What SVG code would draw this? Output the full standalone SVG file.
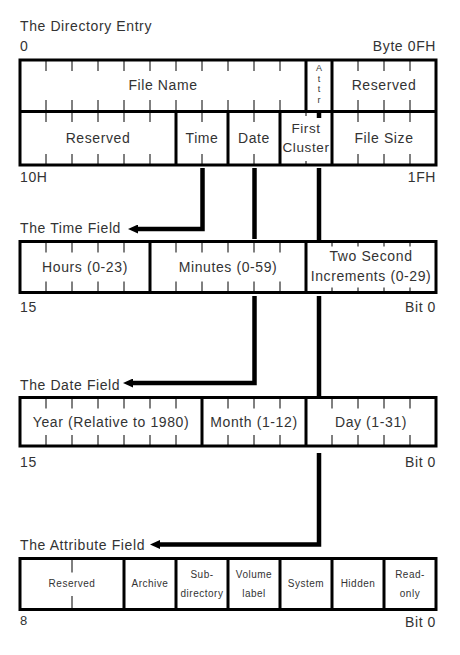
<svg xmlns="http://www.w3.org/2000/svg" width="460" height="655" viewBox="0 0 460 655">
<style>
.bg{fill:#fff}
.box{fill:#fff;stroke:#000;stroke-width:3}
.div{fill:none;stroke:#000;stroke-width:3}
.tick{fill:none;stroke:#000;stroke-width:1}
.t{font-family:"Liberation Sans",Arial,sans-serif;font-size:14px;fill:#333;letter-spacing:0.6px}
.m{text-anchor:middle}
.e{text-anchor:end}
.s{font-size:10px;letter-spacing:0.5px}
.fc{font-size:13.5px}
.a{font-size:9px;letter-spacing:0}
.conn{fill:none;stroke:#000;stroke-width:4.5;stroke-linejoin:miter}
</style>
<defs>
<marker id="ah" viewBox="0 0 10 9" refX="0" refY="4.5" markerWidth="10" markerHeight="9" markerUnits="userSpaceOnUse" orient="auto">
<path d="M0,0 L10,4.5 L0,9 z" fill="#000"/>
</marker>
</defs>
<rect class="bg" x="0" y="0" width="460" height="655"/>

<g id="directory-entry">
<text class="t" x="20" y="31">The Directory Entry</text>
<text class="t" x="20" y="51">0</text>
<text class="t e" x="436" y="51">Byte 0FH</text>
<rect class="box" x="20" y="60" width="416" height="105"/>
<path class="div" d="M20,111.5 H436 M306,60 V111.5 M332,60 V165 M176,111.5 V165 M228,111.5 V165 M280,111.5 V165"/>
<path class="tick" d="M46,60v11M72,60v11M98,60v11M124,60v11M150,60v11M176,60v11M202,60v11M228,60v11M254,60v11M280,60v11M358,60v11M384,60v11M410,60v11
M46,100v11M72,100v11M98,100v11M124,100v11M150,100v11M176,100v11M202,100v11M228,100v11M254,100v11M280,100v11M358,100v11M384,100v11M410,100v11
M46,111v11M72,111v11M98,111v11M124,111v11M150,111v11M202,111v11M254,111v11M358,111v11M384,111v11M410,111v11M306,111v5
M46,154v11M72,154v11M98,154v11M124,154v11M150,154v11M202,154v11M254,154v11M358,154v11M384,154v11M410,154v11M306,161v4"/>
<text class="t m" x="163" y="90">File Name</text>
<g class="t a m">
<text x="319" y="71">A</text>
<text x="319" y="81.5">t</text>
<text x="319" y="92">t</text>
<text x="319" y="102.5">r</text>
</g>
<text class="t m" x="384" y="90">Reserved</text>
<text class="t m" x="98" y="143">Reserved</text>
<text class="t m" x="202" y="143">Time</text>
<text class="t m" x="254" y="143">Date</text>
<text class="t fc m" x="306" y="133">First</text>
<text class="t fc m" x="306" y="152">Cluster</text>
<text class="t m" x="384" y="143">File Size</text>
<text class="t" x="20" y="182">10H</text>
<text class="t e" x="436" y="182">1FH</text>
</g>

<g id="time-field">
<text class="t" x="20" y="233">The Time Field</text>
<rect class="box" x="20" y="241.5" width="416" height="51"/>
<path class="div" d="M150,241.5 V292.5 M306,241.5 V292.5"/>
<path class="tick" d="M46,241.5v11M72,241.5v11M98,241.5v11M124,241.5v11M176,241.5v11M202,241.5v11M228,241.5v11M254,241.5v11M280,241.5v11
M46,281.5v11M72,281.5v11M98,281.5v11M124,281.5v11M176,281.5v11M202,281.5v11M228,281.5v11M254,281.5v11M280,281.5v11
M332,241.5v5M358,241.5v5M384,241.5v5M410,241.5v5M332,287.5v5M358,287.5v5M384,287.5v5M410,287.5v5"/>
<text class="t m" x="85" y="272">Hours (0-23)</text>
<text class="t m" x="228" y="272">Minutes (0-59)</text>
<text class="t m" x="371" y="261">Two Second</text>
<text class="t m" x="371" y="281">Increments (0-29)</text>
<text class="t" x="20" y="312">15</text>
<text class="t e" x="436" y="312">Bit 0</text>
</g>

<g id="date-field">
<text class="t" x="20" y="390">The Date Field</text>
<rect class="box" x="20" y="397.5" width="416" height="48.5"/>
<path class="div" d="M202,397.5 V446 M306,397.5 V446"/>
<path class="tick" d="M46,397.5v11M72,397.5v11M98,397.5v11M124,397.5v11M150,397.5v11M176,397.5v11M228,397.5v11M254,397.5v11M280,397.5v11M332,397.5v11M358,397.5v11M384,397.5v11M410,397.5v11
M46,435v11M72,435v11M98,435v11M124,435v11M150,435v11M176,435v11M228,435v11M254,435v11M280,435v11M332,435v11M358,435v11M384,435v11M410,435v11"/>
<text class="t m" x="111" y="427">Year (Relative to 1980)</text>
<text class="t m" x="254" y="427">Month (1-12)</text>
<text class="t m" x="371" y="427">Day (1-31)</text>
<text class="t" x="20" y="467">15</text>
<text class="t e" x="436" y="467">Bit 0</text>
</g>

<g id="attribute-field">
<text class="t" x="20" y="550">The Attribute Field</text>
<rect class="box" x="20" y="558.5" width="416" height="51"/>
<path class="div" d="M124,558.5 V609.5 M176,558.5 V609.5 M228,558.5 V609.5 M280,558.5 V609.5 M332,558.5 V609.5 M384,558.5 V609.5"/>
<path class="tick" d="M72,558.5v14M72,596v13.5"/>
<g class="t s m">
<text x="72" y="587">Reserved</text>
<text x="150" y="587">Archive</text>
<text x="202" y="578">Sub-</text>
<text x="202" y="597">directory</text>
<text x="254" y="578">Volume</text>
<text x="254" y="597">label</text>
<text x="306" y="587">System</text>
<text x="358" y="587">Hidden</text>
<text x="410" y="578">Read-</text>
<text x="410" y="597">only</text>
</g>
<text class="t" x="20" y="625" style="font-size:13px">8</text>
<text class="t e" x="436" y="627">Bit 0</text>
</g>

<g id="connectors">
<path class="conn" d="M202.5,168 V229 H138" marker-end="url(#ah)"/>
<path class="conn" d="M254.5,168 V239"/>
<path class="conn" d="M254.5,296 V383 H133" marker-end="url(#ah)"/>
<path class="conn" d="M319,112 V118"/>
<path class="conn" d="M319,168 V240"/>
<path class="conn" d="M319,296 V397"/>
<path class="conn" d="M319,453 V544.5 H160" marker-end="url(#ah)"/>
</g>
</svg>
